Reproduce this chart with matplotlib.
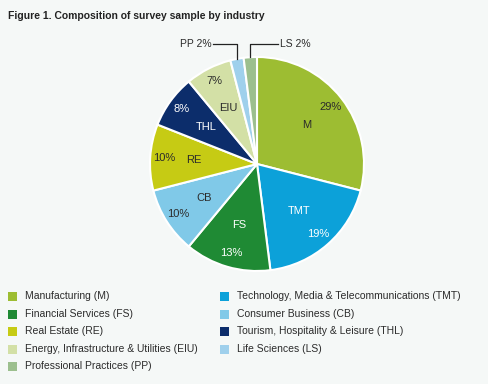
import numpy as np
import matplotlib
matplotlib.use("Agg")
import matplotlib.pyplot as plt
from matplotlib.patches import Rectangle

# ===== DATA =====
slice_codes = ["M", "TMT", "FS", "CB", "RE", "THL", "EIU", "PP", "LS"]
slice_shares = [29, 19, 13, 10, 10, 8, 7, 2, 2]
slice_colors = ["#9dbd32", "#0ca1d9", "#1f8a34", "#80c9e8", "#c6cb14",
                "#0c2d6b", "#d3e0a6", "#9fd0ec", "#9cbf8e"]
white_text = ["TMT", "FS", "THL"]
outside_labels = ["PP", "LS"]

legend_col1 = ["Manufacturing (M)", "Financial Services (FS)", "Real Estate (RE)",
               "Energy, Infrastructure & Utilities (EIU)", "Professional Practices (PP)"]
legend_col1_colors = ["#9dbd32", "#1f8a34", "#c6cb14", "#d3e0a6", "#9cbf8e"]
legend_col2 = ["Technology, Media & Telecommunications (TMT)", "Consumer Business (CB)",
               "Tourism, Hospitality & Leisure (THL)", "Life Sciences (LS)"]
legend_col2_colors = ["#0ca1d9", "#80c9e8", "#0c2d6b", "#9fd0ec"]

title = "Figure 1. Composition of survey sample by industry"

# ===== SETTINGS =====
bg = "#f5f8f7"
txt_color = "#2b2b2b"
W, H = 488, 384
cx, cy, R = 257, H - 164, 107
plt.rcParams["font.family"] = ["Liberation Sans", "DejaVu Sans"]

fig = plt.figure(figsize=(W / 100, H / 100), dpi=100, facecolor=bg)
ax = fig.add_axes([0, 0, 1, 1])
ax.set_facecolor(bg)

wedges, _ = ax.pie(
    slice_shares,
    colors=slice_colors,
    startangle=90,
    counterclock=False,
    center=(cx, cy),
    radius=R,
    wedgeprops={"edgecolor": "white", "linewidth": 1.5},
)

# labels inside the wedges
for w, code, share in zip(wedges, slice_codes, slice_shares):
    ang = np.deg2rad((w.theta1 + w.theta2) / 2)
    if code in outside_labels:
        continue
    col = "white" if code in white_text else txt_color
    for frac, s in [(0.59, code), (0.87, f"{share}%")]:
        ax.text(cx + frac * R * np.cos(ang), cy + frac * R * np.sin(ang), s,
                ha="center", va="center", fontsize=8, color=col)

# leader lines for the tiny slices
for w, code, share in zip(wedges, slice_codes, slice_shares):
    if code not in outside_labels:
        continue
    ang = np.deg2rad((w.theta1 + w.theta2) / 2)
    ex, ey = cx + R * np.cos(ang), cy + R * np.sin(ang)
    top = H - 44
    if code == "PP":
        tx = ex - 24
        ax.plot([tx, ex, ex], [top, top, ey], color="#222222", lw=0.9)
        ax.text(tx - 1, top, f"{code} {share}%", ha="right", va="center",
                fontsize=7.5, color=txt_color)
    else:
        tx = ex + 28
        ax.plot([tx, ex, ex], [top, top, ey], color="#222222", lw=0.9)
        ax.text(tx + 2, top, f"{code} {share}%", ha="left", va="center",
                fontsize=7.5, color=txt_color)

# legend drawn by hand, two columns
row_y = [296, 314, 331, 349, 366]
for (labels, colors, sq_x) in [(legend_col1, legend_col1_colors, 8),
                               (legend_col2, legend_col2_colors, 220)]:
    for i, (lab, c) in enumerate(zip(labels, colors)):
        y = H - row_y[i]
        ax.add_patch(Rectangle((sq_x, y - 4.5), 9, 9, color=c, lw=0))
        ax.text(sq_x + 17, y, lab, ha="left", va="center", fontsize=7.5,
                color=txt_color)

ax.text(8, H - 16, title, ha="left", va="center", fontsize=7.5,
        fontweight="bold", color="#222222")

ax.set_xlim(0, W)
ax.set_ylim(0, H)
ax.set_aspect("equal")
ax.axis("off")

fig.savefig("out.png", dpi=100, facecolor=bg)
